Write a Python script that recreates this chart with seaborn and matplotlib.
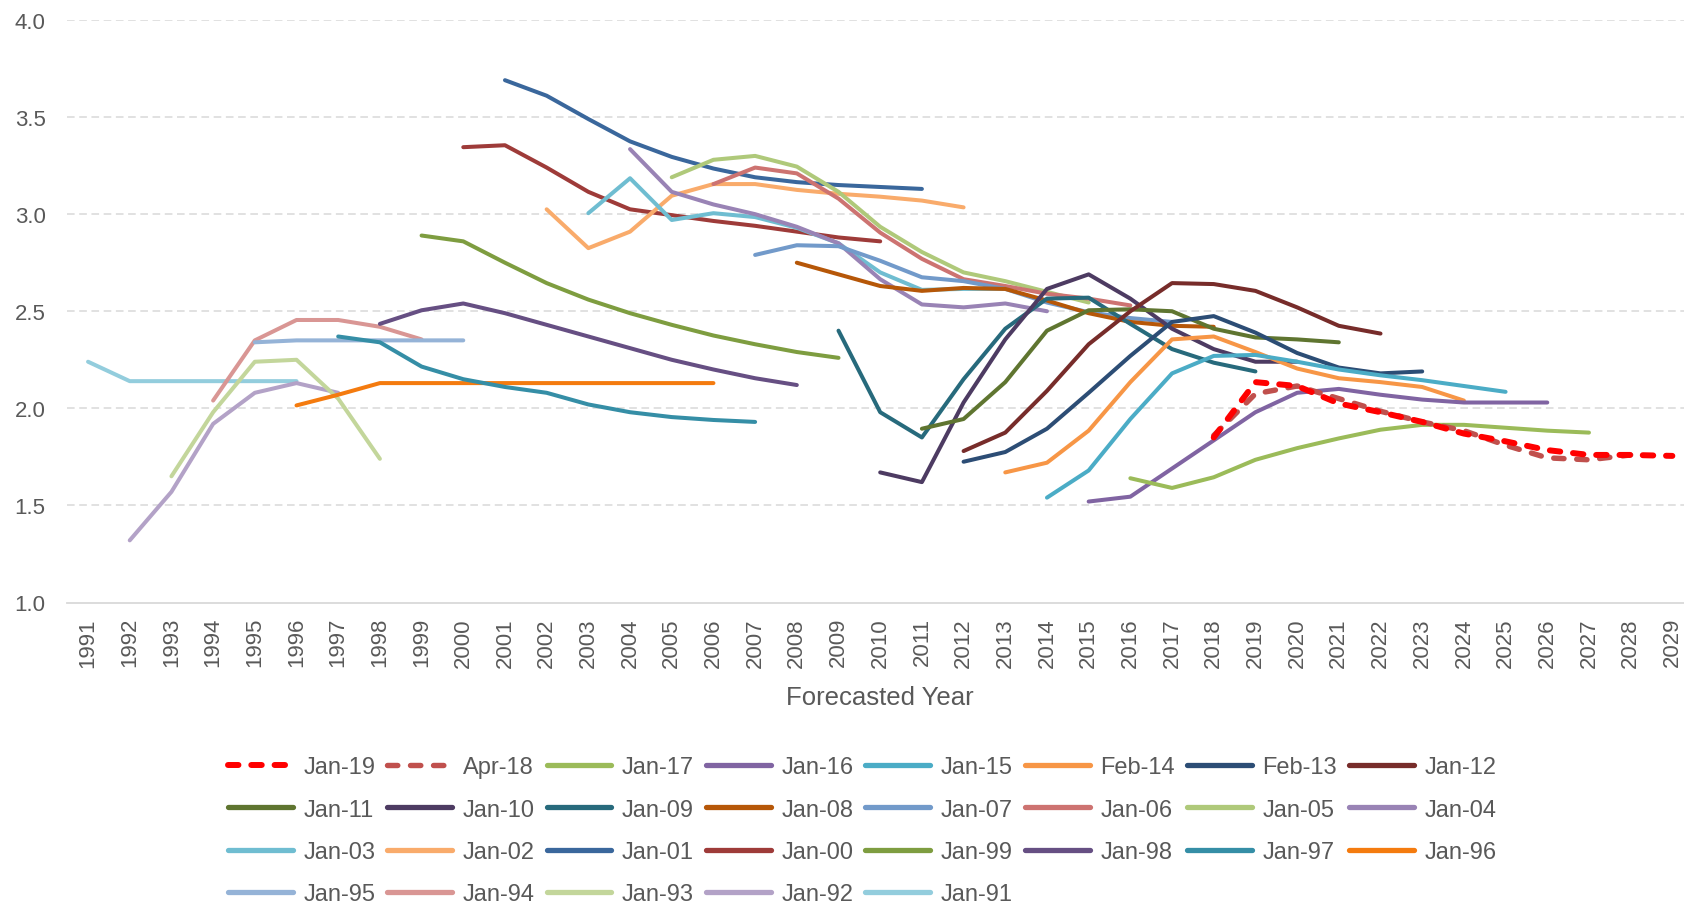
import matplotlib
matplotlib.use("Agg")
import matplotlib.pyplot as plt
from matplotlib.ticker import FixedLocator, FormatStrFormatter
import pandas as pd
import seaborn as sns

# forecast vintages, newest first (legend order)
labels = ["Jan-19", "Apr-18", "Jan-17", "Jan-16", "Jan-15", "Feb-14", "Feb-13", "Jan-12",
          "Jan-11", "Jan-10", "Jan-09", "Jan-08", "Jan-07", "Jan-06", "Jan-05", "Jan-04",
          "Jan-03", "Jan-02", "Jan-01", "Jan-00", "Jan-99", "Jan-98", "Jan-97", "Jan-96",
          "Jan-95", "Jan-94", "Jan-93", "Jan-92", "Jan-91"]

# first forecasted year of each vintage
start_years = [2018, 2018, 2016, 2015, 2014, 2013, 2012, 2012,
               2011, 2010, 2009, 2008, 2007, 2006, 2005, 2004,
               2003, 2002, 2001, 2000, 1999, 1998, 1997, 1996,
               1995, 1994, 1993, 1992, 1991]

jan19 = [1.85, 2.135, 2.115, 2.025, 1.98, 1.93, 1.87, 1.83, 1.785, 1.76, 1.76, 1.755]
apr18 = [1.86, 2.075, 2.115, 2.05, 1.985, 1.93, 1.885, 1.81, 1.745, 1.735, 1.76]
jan17 = [1.64, 1.59, 1.645, 1.735, 1.795, 1.845, 1.89, 1.915, 1.915, 1.90, 1.885, 1.875]
jan16 = [1.52, 1.545, 1.69, 1.835, 1.98, 2.08, 2.10, 2.07, 2.045, 2.03, 2.03, 2.03]
jan15 = [1.54, 1.68, 1.945, 2.18, 2.27, 2.275, 2.24, 2.20, 2.17, 2.145, 2.115, 2.085]
feb14 = [1.67, 1.72, 1.885, 2.135, 2.355, 2.37, 2.29, 2.205, 2.155, 2.135, 2.11, 2.04]
feb13 = [1.725, 1.775, 1.895, 2.08, 2.27, 2.445, 2.475, 2.39, 2.285, 2.21, 2.18, 2.19]
jan12 = [1.78, 1.875, 2.09, 2.33, 2.50, 2.645, 2.64, 2.605, 2.52, 2.425, 2.385]
jan11 = [1.895, 1.945, 2.135, 2.40, 2.505, 2.51, 2.50, 2.41, 2.365, 2.355, 2.34]
jan10 = [1.67, 1.62, 2.03, 2.355, 2.615, 2.69, 2.565, 2.41, 2.305, 2.24, 2.24]
jan09 = [2.40, 1.98, 1.85, 2.15, 2.41, 2.565, 2.57, 2.435, 2.305, 2.235, 2.19]
jan08 = [2.75, 2.69, 2.63, 2.605, 2.62, 2.615, 2.555, 2.49, 2.445, 2.425, 2.42]
jan07 = [2.79, 2.84, 2.835, 2.76, 2.675, 2.655, 2.615, 2.545, 2.495, 2.465, 2.445]
jan06 = [3.155, 3.24, 3.21, 3.08, 2.905, 2.77, 2.665, 2.63, 2.59, 2.565, 2.53]
jan05 = [3.19, 3.28, 3.30, 3.245, 3.115, 2.935, 2.805, 2.70, 2.655, 2.60, 2.545]
jan04 = [3.335, 3.115, 3.05, 3.0, 2.935, 2.85, 2.665, 2.535, 2.52, 2.54, 2.50]
jan03 = [3.005, 3.185, 2.97, 3.005, 2.985, 2.93, 2.85, 2.70, 2.61, 2.615, 2.615]
jan02 = [3.025, 2.825, 2.91, 3.095, 3.155, 3.155, 3.125, 3.105, 3.09, 3.07, 3.035]
jan01 = [3.69, 3.61, 3.49, 3.375, 3.295, 3.235, 3.19, 3.165, 3.15, 3.14, 3.13]
jan00 = [3.345, 3.355, 3.24, 3.115, 3.025, 2.995, 2.965, 2.94, 2.91, 2.88, 2.86]
jan99 = [2.89, 2.86, 2.75, 2.645, 2.56, 2.49, 2.43, 2.375, 2.33, 2.29, 2.26]
jan98 = [2.435, 2.505, 2.54, 2.49, 2.43, 2.37, 2.31, 2.25, 2.20, 2.155, 2.12]
jan97 = [2.37, 2.34, 2.215, 2.15, 2.11, 2.08, 2.02, 1.98, 1.955, 1.94, 1.93]
jan96 = [2.015, 2.07, 2.13, 2.13, 2.13, 2.13, 2.13, 2.13, 2.13, 2.13, 2.13]
jan95 = [2.34, 2.35, 2.35, 2.35, 2.35, 2.35]
jan94 = [2.04, 2.35, 2.455, 2.455, 2.42, 2.355]
jan93 = [1.65, 1.98, 2.24, 2.25, 2.05, 1.74]
jan92 = [1.32, 1.57, 1.92, 2.08, 2.13, 2.08]
jan91 = [2.24, 2.14, 2.14, 2.14, 2.14, 2.14]

values = [jan19, apr18, jan17, jan16, jan15, feb14, feb13, jan12,
          jan11, jan10, jan09, jan08, jan07, jan06, jan05, jan04,
          jan03, jan02, jan01, jan00, jan99, jan98, jan97, jan96,
          jan95, jan94, jan93, jan92, jan91]

colors = ["#FF0000", "#C0504D", "#9BBB59", "#8064A2", "#4BACC6", "#F79646", "#2C4D75", "#772C2A",
          "#5F7530", "#4D3B62", "#276A7C", "#B65708", "#729ACA", "#CD7371", "#AFC97A", "#9983B5",
          "#6FBDD1", "#F9AB6B", "#3A679C", "#9E3B39", "#7E9D40", "#664F83", "#358EA6", "#F47B0F",
          "#95B3D7", "#D99694", "#C3D69B", "#B3A2C7", "#93CDDD"]

years = list(range(1991, 2030))

# long table: one row per forecast point
rows = []
for lab, start, vals in zip(labels, start_years, values):
    for i, v in enumerate(vals):
        rows.append({"vintage": lab, "year": start + i, "value": v})
df = pd.DataFrame(rows)

sns.set_style("white")
plt.rcParams["font.family"] = ["Liberation Sans", "DejaVu Sans"]
text_col = "#595959"
grid_col = "#D9D9D9"

fig = plt.figure(figsize=(16.84, 9.03), dpi=100)
ax = fig.add_axes([67.2 / 1684, 299.5 / 903, 1626 / 1684, 582.5 / 903])

# oldest drawn first so the newest vintages sit on top
for lab, col in reversed(list(zip(labels, colors))):
    sub = df[df["vintage"] == lab]
    if lab == "Jan-19":
        lw, ls = 4.3, (0, (1.75, 2.15))
    elif lab == "Apr-18":
        lw, ls = 3.9, (0, (1.9, 2.35))
    else:
        lw, ls = 2.9, "-"
    sns.lineplot(data=sub, x="year", y="value", color=col, linewidth=lw,
                 linestyle=ls, label=lab, ax=ax, legend=False)

for line in ax.lines:
    line.set_solid_capstyle("round")
    line.set_dash_capstyle("round")
    line.set_solid_joinstyle("round")

ax.set_xlim(1990.5, 2029.5)
ax.set_ylim(1.0, 4.0)

# gridlines
for g in [1.5, 2.0, 2.5, 3.0, 3.5, 4.0]:
    ax.axhline(g, color=grid_col, linewidth=1.1, linestyle=(0, (5, 3)), zorder=0)

for s in ["top", "right", "left"]:
    ax.spines[s].set_visible(False)
ax.spines["bottom"].set_color(grid_col)
ax.spines["bottom"].set_linewidth(1.3)

ax.set_yticks([1.0, 1.5, 2.0, 2.5, 3.0, 3.5, 4.0])
ax.yaxis.set_major_formatter(FormatStrFormatter("%.1f"))
ax.tick_params(axis="y", length=0, pad=15.5, labelsize=16, labelcolor=text_col)

ax.set_xticks(years)
ax.set_xticklabels([str(y) for y in years], rotation=90)
ax.xaxis.set_minor_locator(FixedLocator([y - 0.5 for y in years] + [2029.5]))
ax.tick_params(axis="x", which="major", length=0, pad=10.5, labelsize=16, labelcolor=text_col)
ax.tick_params(axis="x", which="minor", length=4.5, width=1.2, color=grid_col, direction="out")
for t in ax.get_xticklabels():
    t.set_va("top")

ax.set_xlabel("Forecasted Year", fontsize=18.5, color=text_col)
ax.xaxis.label.set_va("center")
ax.xaxis.set_label_coords(0.5, -0.163)
ax.set_ylabel("")

# legend filled row by row like the original (matplotlib fills by column)
handles, labs = ax.get_legend_handles_labels()
by_label = dict(zip(labs, handles))
ncol = 8
order = []
for j in range(ncol):
    for i in range(4):
        k = i * ncol + j
        if k < len(labels):
            order.append(labels[k])
leg = fig.legend([by_label[l] for l in order], order, loc="center",
                 bbox_to_anchor=(0.512, 0.079), ncol=ncol, frameon=False,
                 fontsize=17, handlelength=2.75, handletextpad=0.45,
                 columnspacing=0.5, labelspacing=0.86)
for t in leg.get_texts():
    t.set_color(text_col)
for h in leg.legend_handles:
    if h.get_label() not in ("Jan-19", "Apr-18"):
        h.set_linewidth(3.8)

fig.savefig("out.png", dpi=100)
